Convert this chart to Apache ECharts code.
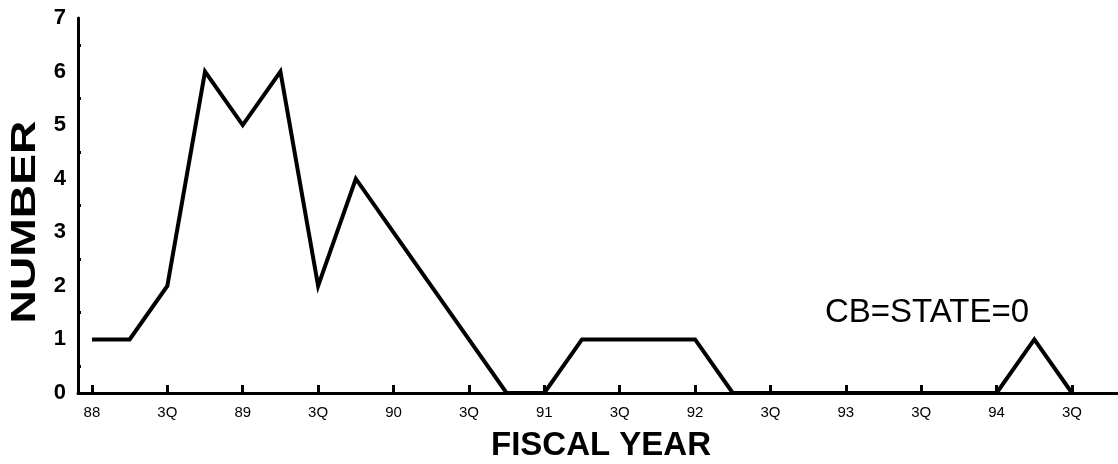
<!DOCTYPE html>
<html>
<head>
<meta charset="utf-8">
<script src="https://cdn.jsdelivr.net/npm/echarts@6/dist/echarts.min.js"></script>
<style>
html,body{margin:0;padding:0;background:#fff;}
#chart{width:1118px;height:464px;}
</style>
</head>
<body>
<div id="chart"></div>
<script>
// Quarterly counts, FY88 Q1 .. FY94 Q3 (index = quarter number)
var counts = [1,1,2,6,5,6,2,4,3,2,1,0,0,1,1,1,1,0,0,0,0,0,0,0,0,1,0];
// Tick labels every other quarter
var tickLabels = ["88","3Q","89","3Q","90","3Q","91","3Q","92","3Q","93","3Q","94","3Q"];
var tickPositions = tickLabels.map(function(_, i){ return i * 2; });
var yTicks = [0,1,2,3,4,5,6,7];

var FONT = '"Liberation Sans", Arial, Helvetica, sans-serif';
var chart = echarts.init(document.getElementById('chart'));
var seriesData = counts.map(function(v, i){ return [i, v]; });

chart.setOption({
  backgroundColor: '#fff',
  animation: false,
  grid: {left: 78, right: 0, top: 18, bottom: 71, containLabel: false},
  xAxis: {
    type: 'value',
    min: -0.37,
    max: 27.22,
    axisLine: {show: true, onZero: false, lineStyle: {color: '#000', width: 3}},
    axisTick: {show: true, inside: true, length: 8, customValues: tickPositions,
               lineStyle: {color: '#000', width: 3}},
    axisLabel: {show: true, margin: 12, customValues: tickPositions,
                fontFamily: FONT, fontSize: 15, color: '#000',
                formatter: function(v){ return tickLabels[Math.round(v / 2)]; }},
    splitLine: {show: false}
  },
  yAxis: {
    type: 'value',
    min: 0, max: 7, interval: 1,
    axisLine: {show: true, onZero: false, lineStyle: {color: '#000', width: 3}},
    axisTick: {show: false, inside: true, length: 0},
    minorTick: {show: true, splitNumber: 2, length: 3, lineStyle: {color: '#000', width: 3}},
    axisLabel: {show: true, margin: 12, fontFamily: FONT, fontWeight: 'bold',
                fontSize: 22, color: '#000',
                formatter: function(v){ return yTicks.indexOf(v) >= 0 ? String(v) : ''; }},
    splitLine: {show: false}
  },
  graphic: [
    {type: 'text', x: 601, y: 446,
     style: {text: 'FISCAL YEAR', font: 'bold 33px ' + FONT, fill: '#000',
             align: 'center', verticalAlign: 'middle'}},
    {type: 'text', x: 25, y: 222, rotation: Math.PI / 2, scaleX: 1.32,
     style: {text: 'NUMBER', font: 'bold 35px ' + FONT, fill: '#000',
             align: 'center', verticalAlign: 'middle'}},
    {type: 'text', x: 927, y: 313,
     style: {text: 'CB=STATE=0', font: '33px ' + FONT, fill: '#000',
             align: 'center', verticalAlign: 'middle'}}
  ],
  series: [{
    type: 'line',
    data: seriesData,
    symbol: 'none',
    lineStyle: {color: '#000', width: 4, join: 'miter'},
    z: 3
  }]
});
</script>
</body>
</html>
